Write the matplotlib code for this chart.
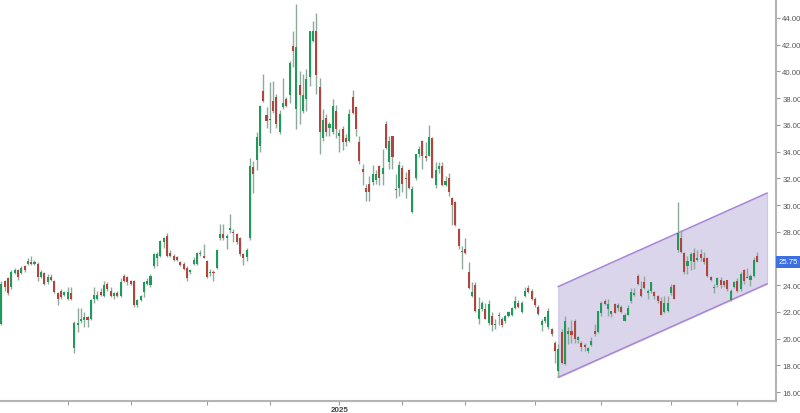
import numpy as np
import matplotlib
matplotlib.use("Agg")
import matplotlib.pyplot as plt
import matplotlib.transforms as mtransforms

plt.rcParams["font.family"] = ["Liberation Sans", "DejaVu Sans"]

# daily candles, mid Aug 2024 -> mid Jul 2025
opens = [
    21.1, 24.3, 24.5, 23.9, 24.9, 25.1, 24.9, 25.4, 25.6, 25.7,
    25.6, 25.6, 24.6, 24.9, 24.2, 24.6, 24.3, 23.4, 23.6, 23.3,
    23.0, 23.4, 19.3, 21.0, 21.3, 21.4, 21.6, 21.5, 23.0, 23.0,
    23.5, 23.2, 24.1, 23.6, 23.2, 23.4, 23.2, 24.7, 24.6, 24.3,
    24.3, 22.5, 22.9, 23.5, 24.1, 24.0, 25.4, 26.0, 26.2, 27.2,
    27.7, 26.4, 26.2, 26.1, 25.7, 25.6, 25.3, 25.0, 25.6, 25.6,
    26.3, 26.2, 25.8, 24.9, 25.0, 25.3, 27.5, 27.8, 27.5, 28.1,
    27.95, 27.8, 27.5, 26.3, 26.1, 27.5, 32.85, 33.4, 34.4, 38.5,
    36.7, 36.4, 37.8, 38.1, 35.5, 37.3, 37.9, 38.2, 41.9, 37.2,
    39.0, 37.0, 37.9, 39.6, 42.3, 43.0, 38.8, 35.0, 36.5, 35.8,
    35.5, 37.0, 35.2, 35.7, 35.0, 34.8, 38.1, 37.3, 34.7, 32.7,
    31.3, 31.6, 31.7, 31.9, 32.9, 32.3, 36.1, 33.2, 35.2, 31.1,
    31.3, 32.8, 32.0, 32.6, 29.5, 32.0, 33.8, 34.8, 33.7, 33.7,
    35.0, 31.5, 32.7, 32.9, 31.5, 32.0, 30.5, 30.2, 28.2, 26.5,
    26.7, 25.0, 23.2, 24.0, 21.5, 22.2, 22.2, 21.2, 21.7, 21.0,
    21.8, 21.5, 21.35, 21.7, 21.8, 22.3, 22.7, 22.0, 23.2, 23.8,
    23.6, 23.0, 22.4, 21.0, 21.35, 20.85, 20.7, 19.7, 17.6, 20.5,
    18.1, 20.35, 20.6, 21.3, 19.9, 19.65, 19.5, 19.1, 19.5, 20.6,
    20.5, 21.9, 22.8, 22.2, 21.85, 22.6, 22.3, 22.4, 21.3, 21.8,
    22.8, 23.3, 24.7, 23.7, 24.2, 23.4, 23.6, 23.5, 23.2, 22.8,
    22.0, 22.1, 23.4, 24.0, 26.6, 27.5, 26.4, 25.4, 25.8, 26.4,
    25.9, 26.3, 26.0, 26.0, 24.6, 23.8, 24.0, 24.4, 24.3, 24.4,
    22.9, 23.9, 24.3, 23.7, 25.1, 24.5, 24.35, 24.7, 26.2,
]
highs = [
    24.3, 24.4, 24.6, 25.1, 25.3, 25.2, 25.4, 25.5, 26.0, 26.2,
    25.9, 25.7, 25.1, 25.0, 24.8, 24.8, 24.4, 23.5, 23.7, 23.6,
    23.9, 23.9, 21.3, 22.3, 22.3, 22.0, 21.7, 23.0, 23.9, 23.6,
    23.8, 24.3, 24.2, 23.9, 23.5, 23.6, 24.5, 24.8, 24.7, 24.4,
    24.4, 23.0, 23.3, 24.3, 24.5, 24.8, 26.4, 26.5, 27.4, 27.6,
    27.9, 26.6, 26.3, 26.2, 25.8, 25.7, 25.4, 25.2, 26.1, 26.5,
    26.6, 27.1, 25.9, 25.2, 25.1, 26.7, 28.6, 28.6, 27.8, 29.3,
    28.2, 27.9, 27.6, 26.4, 26.8, 33.5, 33.3, 35.5, 37.5, 39.8,
    37.3, 39.2, 39.3, 38.3, 37.1, 39.5, 38.1, 40.8, 43.0, 45.05,
    40.0, 39.8, 40.2, 43.0, 43.8, 44.4, 39.5, 37.2, 36.8, 36.2,
    37.9, 37.5, 35.7, 35.9, 35.3, 37.2, 38.6, 37.4, 35.2, 33.1,
    31.6, 32.2, 33.0, 32.6, 33.0, 34.2, 36.3, 35.2, 35.2, 32.3,
    33.3, 33.0, 32.5, 32.7, 31.4, 33.8, 34.4, 34.9, 34.7, 36.0,
    35.1, 33.2, 33.2, 33.2, 32.2, 32.4, 30.6, 30.3, 28.3, 26.9,
    27.5, 25.7, 24.2, 24.2, 23.1, 22.8, 22.7, 22.9, 22.0, 21.5,
    22.0, 21.6, 21.8, 22.1, 22.4, 23.2, 22.9, 22.8, 23.9, 24.0,
    23.7, 23.1, 22.5, 21.5, 21.7, 22.3, 20.8, 19.8, 19.6, 20.7,
    21.7, 20.9, 21.4, 21.5, 20.2, 19.85, 19.7, 19.35, 20.1, 21.1,
    22.1, 22.8, 22.95, 22.95, 22.1, 22.7, 22.7, 22.5, 21.95, 22.5,
    23.8, 23.8, 24.8, 24.3, 24.7, 23.7, 24.2, 23.6, 23.3, 23.1,
    23.2, 23.2, 24.1, 24.1, 30.25, 28.1, 26.5, 26.2, 26.5, 26.8,
    26.6, 26.7, 26.5, 26.1, 24.7, 24.1, 24.6, 24.6, 24.4, 24.4,
    23.7, 24.3, 24.5, 25.0, 25.2, 25.3, 24.8, 26.1, 26.5,
]
lows = [
    21.0, 23.6, 23.3, 23.7, 24.8, 24.4, 24.8, 25.0, 25.5, 25.5,
    25.5, 24.3, 24.5, 24.0, 24.1, 24.3, 23.4, 22.5, 23.0, 23.2,
    22.9, 22.9, 18.9, 20.5, 21.2, 20.9, 20.9, 21.4, 22.7, 22.9,
    23.2, 23.1, 23.6, 23.1, 23.0, 23.1, 23.1, 24.2, 24.0, 24.0,
    22.4, 22.4, 22.8, 23.1, 24.0, 23.9, 25.3, 25.4, 26.1, 26.8,
    26.1, 26.1, 25.8, 25.8, 25.4, 25.1, 24.3, 24.8, 25.5, 25.5,
    26.2, 26.0, 24.5, 24.7, 24.3, 25.2, 27.4, 27.4, 26.7, 27.9,
    27.2, 27.1, 26.2, 25.5, 25.8, 27.4, 30.9, 32.6, 34.0, 37.7,
    35.8, 35.4, 36.9, 35.8, 35.3, 37.2, 37.3, 37.6, 40.3, 35.7,
    36.1, 36.9, 37.0, 38.9, 42.2, 38.3, 33.8, 34.8, 35.2, 35.2,
    35.3, 35.0, 34.0, 34.1, 34.4, 34.7, 36.8, 35.2, 33.1, 31.5,
    30.3, 30.3, 31.5, 31.6, 31.5, 31.5, 34.2, 32.7, 32.7, 30.5,
    30.7, 31.0, 30.5, 31.2, 29.4, 31.9, 33.6, 32.7, 33.3, 33.7,
    32.0, 31.3, 32.4, 31.4, 31.4, 30.7, 28.5, 28.4, 26.7, 25.2,
    26.3, 23.7, 23.1, 22.0, 21.1, 22.1, 21.5, 21.0, 20.6, 20.7,
    21.0, 20.9, 21.2, 21.6, 21.7, 22.2, 22.3, 21.9, 23.1, 23.4,
    22.9, 22.4, 21.8, 20.6, 21.2, 20.7, 20.2, 18.2, 17.1, 18.1,
    18.0, 19.6, 19.7, 19.7, 19.7, 19.1, 19.1, 18.9, 19.45, 20.2,
    20.45, 21.7, 22.5, 21.7, 21.6, 21.9, 22.1, 21.9, 21.3, 21.8,
    22.7, 23.2, 24.0, 23.1, 23.7, 22.95, 23.4, 22.95, 22.7, 21.8,
    21.9, 22.0, 23.3, 22.95, 26.5, 26.4, 24.8, 24.8, 25.1, 25.2,
    25.8, 25.8, 25.6, 24.6, 24.3, 23.4, 23.9, 23.8, 23.9, 23.6,
    22.8, 23.8, 23.5, 23.6, 24.1, 24.5, 23.95, 24.6, 25.7,
]
closes = [
    24.1, 23.9, 23.4, 25.0, 25.1, 24.6, 25.3, 25.1, 25.8, 25.6,
    25.7, 24.6, 25.0, 24.1, 24.6, 24.4, 23.5, 23.0, 23.1, 23.5,
    23.5, 23.0, 21.2, 21.2, 21.5, 21.6, 21.4, 22.9, 23.3, 23.3,
    23.3, 24.0, 23.7, 23.2, 23.4, 23.2, 24.2, 24.3, 24.2, 24.1,
    22.5, 22.9, 23.2, 24.2, 24.3, 24.7, 26.3, 26.3, 27.3, 27.5,
    26.2, 26.2, 25.9, 25.9, 25.5, 25.2, 24.5, 25.1, 25.9, 26.4,
    26.4, 26.0, 24.6, 25.0, 24.9, 26.6, 27.8, 27.5, 27.7, 28.3,
    27.9, 27.2, 26.3, 26.0, 26.6, 32.9, 32.3, 35.1, 37.4, 37.8,
    36.3, 36.35, 37.0, 36.1, 36.8, 37.6, 37.4, 40.6, 41.5, 41.8,
    38.2, 38.2, 39.4, 43.0, 43.0, 39.7, 35.5, 36.4, 35.5, 36.1,
    37.4, 35.7, 35.4, 34.7, 34.7, 36.8, 36.9, 35.7, 33.3, 32.45,
    31.0, 31.0, 32.3, 32.3, 32.0, 32.8, 34.3, 34.8, 33.6, 31.2,
    33.0, 31.6, 31.95, 31.3, 31.2, 33.8, 34.2, 33.7, 33.5, 35.1,
    32.0, 32.6, 32.9, 31.5, 31.8, 31.0, 30.0, 28.5, 26.9, 26.45,
    26.4, 23.8, 23.5, 22.1, 22.2, 22.7, 21.5, 22.6, 21.0, 21.1,
    21.7, 21.0, 21.7, 22.0, 22.3, 22.8, 22.4, 22.7, 23.6, 23.5,
    23.0, 22.5, 21.85, 21.35, 21.6, 22.1, 20.35, 19.1, 19.2, 18.2,
    21.3, 20.6, 20.3, 20.0, 20.1, 19.4, 19.35, 19.3, 19.85, 20.35,
    22.1, 22.7, 22.6, 22.6, 22.1, 21.9, 22.5, 22.0, 21.8, 22.3,
    23.5, 23.4, 24.1, 23.2, 23.8, 23.6, 24.2, 23.2, 22.8, 21.8,
    22.7, 22.7, 23.9, 23.0, 27.9, 26.5, 25.0, 25.8, 26.3, 25.7,
    26.0, 26.0, 25.7, 24.7, 24.35, 23.9, 24.5, 24.0, 24.0, 23.7,
    23.6, 24.2, 23.6, 24.8, 24.3, 24.6, 24.7, 25.9, 25.75,
]

# candle index where each month starts, Sep 2024 .. Jul 2025
month_starts = [20, 39, 62, 81, 102, 121, 140, 161, 181, 202, 222]
month_labels = ["", "", "", "", "2025", "", "", "", "", "", ""]

# rising channel drawn on the chart (candle index, price)
channel_x = [168, 231]
channel_upper = [23.9, 30.9]
channel_lower = [17.1, 24.1]

last_price = 25.75

o = np.array(opens)
h = np.array(highs)
l = np.array(lows)
c = np.array(closes)
x = np.arange(len(c))

green = "#1f9a5b"
red = "#b2443d"
colors = np.where(c >= o, green, red)

fig = plt.figure(figsize=(8, 4.14), dpi=100)
ax = fig.add_axes([0, 0.029, 0.97, 0.971])

ax.fill_between(channel_x, channel_lower, channel_upper, color="#dbd5ec",
                edgecolor="#cfc6e6", linewidth=0.8, zorder=1)
ax.plot(channel_x, channel_upper, color="#a882d6", linewidth=1, zorder=1.5)
ax.plot(channel_x, channel_lower, color="#a882d6", linewidth=1, zorder=1.5)

ax.vlines(x, l, h, color="#8daa9a", linewidth=1, zorder=2)
body_low = np.minimum(o, c)
body_h = np.maximum(np.abs(c - o), 0.07)
ax.bar(x, body_h, bottom=body_low, width=0.62, color=colors, linewidth=0, zorder=3)

ax.set_xlim(-0.4, 233.7)
ax.set_ylim(15.33, 45.42)

for side in ["left", "top"]:
    ax.spines[side].set_visible(False)
for side in ["right", "bottom"]:
    ax.spines[side].set_color("#b4b4b4")
    ax.spines[side].set_linewidth(1.5)

ax.yaxis.tick_right()
ax.set_yticks(np.arange(16, 45, 2))
ax.set_yticklabels([f"{v:.2f}" for v in np.arange(16, 45, 2)])
ax.tick_params(axis="y", length=3, width=0.8, color="#999999", labelsize=5.6,
               labelcolor="#555555", pad=1.5)

ax.set_xticks(month_starts)
ax.set_xticklabels(month_labels)
ax.tick_params(axis="x", length=3, width=0.8, color="#999999", labelsize=5.8,
               labelcolor="#444444", pad=0.5)
for lab in ax.get_xticklabels():
    lab.set_fontweight("bold")

trans = mtransforms.blended_transform_factory(ax.transAxes, ax.transData)
ax.text(1.003, last_price, f"{last_price:.2f}", transform=trans, ha="left", va="center",
        fontsize=5.6, color="white", zorder=10, clip_on=False,
        bbox=dict(boxstyle="square,pad=0.3", fc="#3d6fe0", ec="none"))

plt.savefig("out.png", dpi=100)
plt.close()
